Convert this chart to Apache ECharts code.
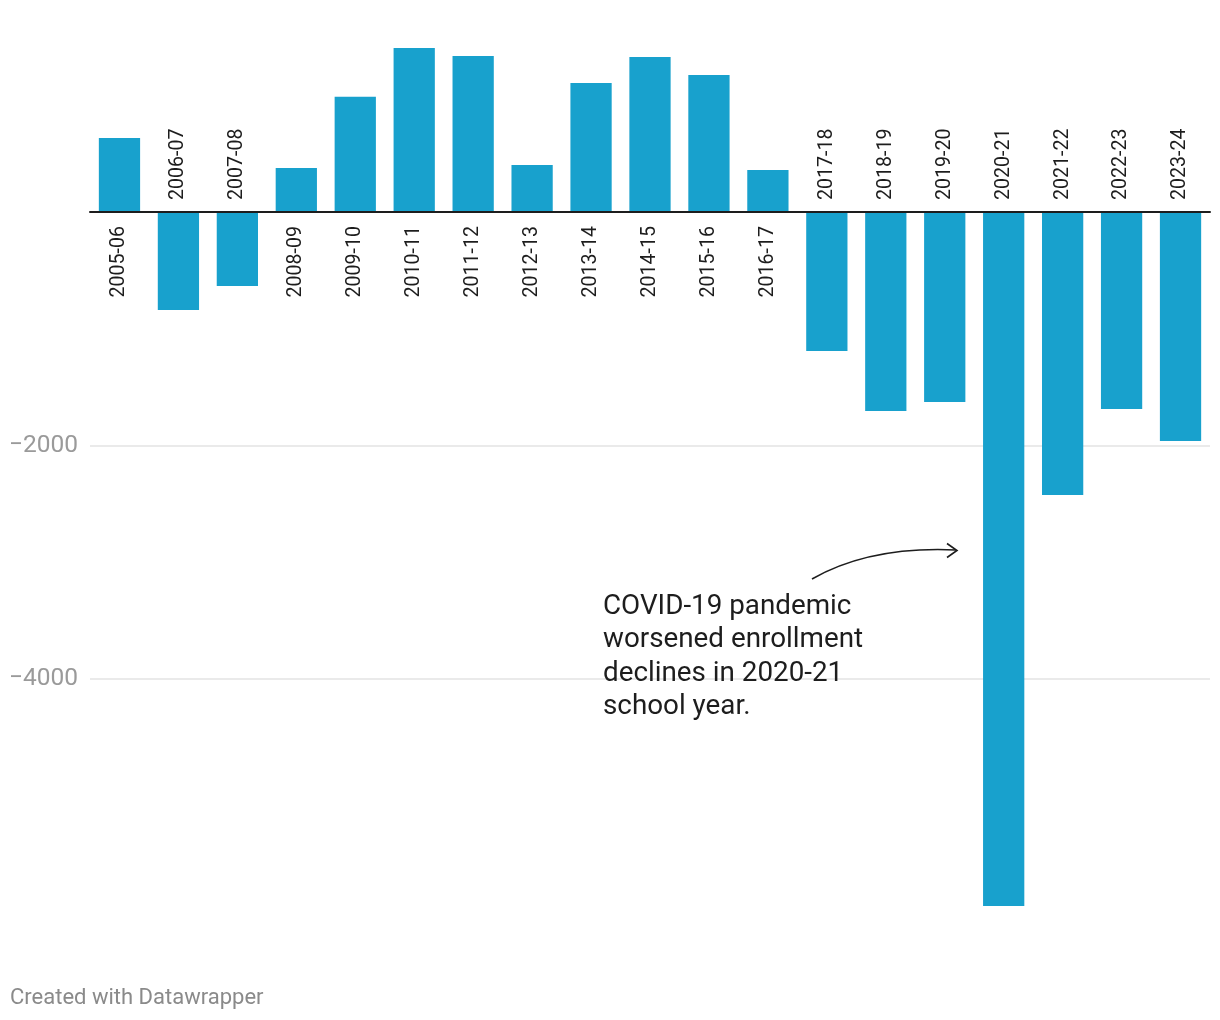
<!DOCTYPE html>
<html>
<head>
<meta charset="utf-8">
<style>html,body{margin:0;padding:0;background:#fff}#c{width:1220px;height:1020px}</style>
<script src="https://cdn.jsdelivr.net/npm/echarts@6/dist/echarts.min.js"></script>
</head>
<body>
<div id="c"></div>
<script>
const categories = ['2005-06','2006-07','2007-08','2008-09','2009-10','2010-11','2011-12','2012-13','2013-14','2014-15','2015-16','2016-17','2017-18','2018-19','2019-20','2020-21','2021-22','2022-23','2023-24'];
const enrollmentChange = [634, -839, -634, 377, 988, 1405, 1336, 403, 1105, 1328, 1173, 360, -1191, -1704, -1627, -5944, -2424, -1687, -1961];
const yTickLabels = [-2000, -4000];
const annotationText = 'COVID-19 pandemic\nworsened enrollment\ndeclines in 2020-21\nschool year.';
const footerText = 'Created with Datawrapper';

const FONT = 'Roboto, "Noto Sans", sans-serif';
const chart = echarts.init(document.getElementById('c'), null, {renderer: 'canvas'});

const option = {
  animation: false,
  grid: {left: 90, right: 10, top: 36.9, bottom: 107.5, containLabel: false},
  xAxis: {
    type: 'category',
    data: categories,
    axisLine: {show: true, onZero: true, lineStyle: {color: '#1d1d1d', width: 2}},
    axisTick: {show: false},
    axisLabel: {show: false},
    splitLine: {show: false},
    z: 5
  },
  yAxis: {
    type: 'value',
    min: -6000,
    max: 1500,
    interval: 2000,
    axisLine: {show: false},
    axisTick: {show: false},
    splitLine: {show: false},
    axisLabel: {
      margin: 12,
      color: '#9a9a9a',
      fontSize: 24.5,
      fontFamily: FONT,
      formatter: function (v) {
        return yTickLabels.indexOf(v) >= 0 ? '\u2212' + Math.abs(v) : '';
      }
    }
  },
  series: [
    {
      type: 'line',
      data: [],
      z: 1,
      silent: true,
      markLine: {
        z: 1,
        silent: true,
        symbol: 'none',
        label: {show: false},
        lineStyle: {color: '#e3e3e3', width: 1.5, type: 'solid'},
        data: yTickLabels.map(v => ({yAxis: v}))
      }
    },
    {
      type: 'bar',
      data: enrollmentChange,
      barWidth: '70%',
      z: 3,
      itemStyle: {color: '#18a1cd'}
    },
    {
      type: 'custom',
      z: 6,
      silent: true,
      data: enrollmentChange.map((v, i) => [i, v]),
      renderItem: function (params, api) {
        const i = api.value(0);
        const v = api.value(1);
        const p = api.coord([i, 0]);
        const pos = v >= 0;
        return {
          type: 'text',
          x: p[0],
          y: pos ? p[1] + 14 : p[1] - 12,
          rotation: Math.PI / 2,
          style: {
            text: categories[i],
            fill: '#1d1d1d',
            font: '19.6px ' + FONT,
            align: pos ? 'right' : 'left',
            verticalAlign: 'middle'
          }
        };
      }
    }
  ],
  graphic: [
    {
      type: 'text',
      left: 603,
      top: 590,
      z: 10,
      style: {
        text: annotationText,
        fill: '#1d1d1d',
        font: '27.8px ' + FONT,
        lineHeight: 33.5
      }
    },
    {
      type: 'bezierCurve',
      z: 10,
      shape: {x1: 812, y1: 579, x2: 956, y2: 550, cpx1: 870, cpy1: 546},
      style: {stroke: '#1d1d1d', lineWidth: 1.6, fill: 'none'}
    },
    {
      type: 'polyline',
      z: 10,
      shape: {points: [[947, 543.5], [957, 550.5], [947, 557.5]]},
      style: {stroke: '#1d1d1d', lineWidth: 1.6, fill: 'none'}
    },
    {
      type: 'text',
      left: 10,
      top: 987,
      style: {
        text: footerText,
        fill: '#8a8a8a',
        font: '22px ' + FONT
      }
    }
  ]
};
chart.setOption(option);
</script>
</body>
</html>
